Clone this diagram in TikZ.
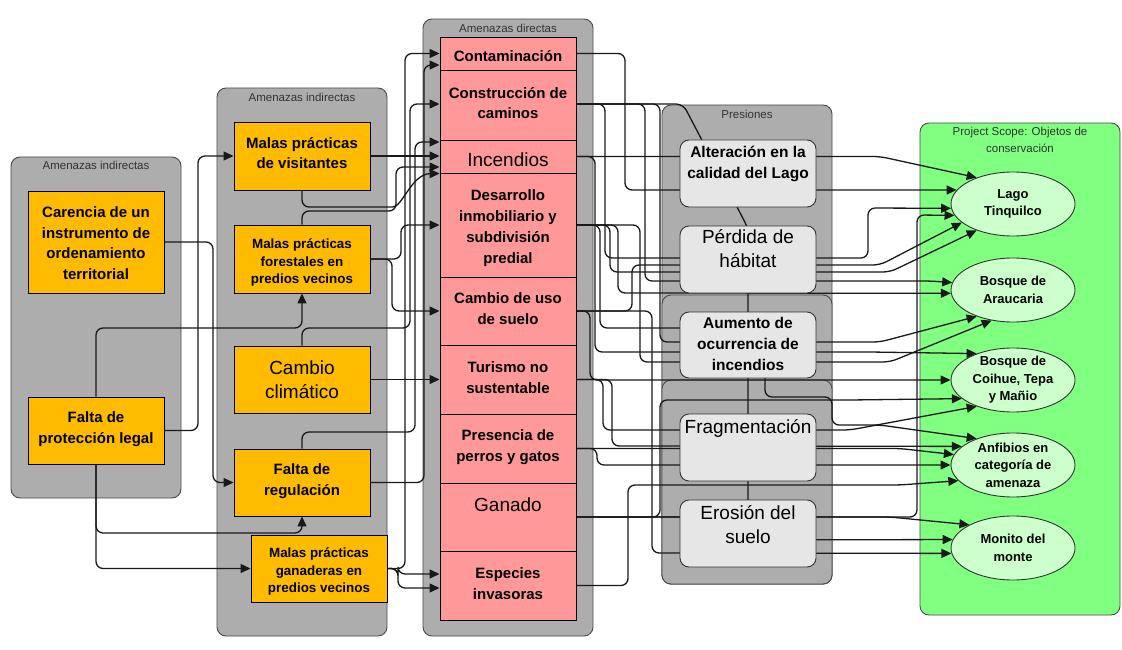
\documentclass[tikz,border=0pt]{standalone}
\usepackage{fontspec}
\setmainfont{Liberation Sans}
\usetikzlibrary{arrows.meta,shapes.geometric}
\pgfdeclarelayer{bg}
\pgfdeclarelayer{lines}
\pgfsetlayers{bg,lines,main}
\definecolor{orng}{HTML}{FFBB00}
\definecolor{pnk}{HTML}{FF9999}
\definecolor{grp}{HTML}{ADADAD}
\definecolor{prs}{HTML}{E6E6E6}
\definecolor{grn}{HTML}{80FF80}
\definecolor{ell}{HTML}{CCFFCC}
\newcommand\tbx[4]{\parbox[c][#2pt][t]{#1pt}{\centering\vspace*{#3pt}#4\par}}
\begin{document}
\begin{tikzpicture}[x=1pt,y=-1pt,
  grpbox/.style={draw=black!70, fill=grp, rounded corners=9pt, line width=0.9pt, inner sep=0pt},
  ttl/.style={font=\fontsize{11.5}{17}\selectfont, text=black!80, inner sep=0pt},
  obox/.style={draw=black, fill=orng, inner sep=0pt, line width=0.9pt, font=\bfseries\fontsize{15}{20.5}\selectfont},
  osmall/.style={obox, font=\bfseries\fontsize{13.4}{17.5}\selectfont},
  obig/.style={obox, font=\fontsize{19}{24}\selectfont},
  pbox/.style={draw=black, fill=pnk, inner sep=0pt, line width=0.9pt, font=\bfseries\fontsize{15}{20.8}\selectfont},
  pbig/.style={pbox, font=\fontsize{19}{24}\selectfont},
  sbox/.style={draw=black!80, fill=prs, rounded corners=9pt, inner sep=0pt, line width=0.9pt, font=\bfseries\fontsize{15.5}{21}\selectfont},
  sbig/.style={sbox, font=\fontsize{19}{24}\selectfont},
  tgt/.style={ellipse, draw=black!80, fill=ell, minimum width=124pt, minimum height=64pt, inner sep=-2pt, align=center, line width=0.9pt, font=\bfseries\fontsize{13}{17.5}\selectfont},
  ln/.style={draw=black!90, line width=1.3pt, rounded corners=7pt},
  arr/.style={ln, -{Triangle[length=10pt,width=9pt]}}]
\begin{pgfonlayer}{bg}
  \fill[white] (0,0) rectangle (1122,650);
  \useasboundingbox (0,0) rectangle (1122,650);
  \node[grpbox, minimum width=170pt, minimum height=341pt] (g1) at (96,327.5) {};
  \node[grpbox, minimum width=170pt, minimum height=548pt] (g2) at (302,362) {};
  \node[grpbox, minimum width=170pt, minimum height=617pt] (g3) at (508,327.5) {};
  \node[grpbox, minimum width=170pt, minimum height=479pt] (g4) at (747,344.5) {};
  \node[grpbox, minimum width=170pt, minimum height=289pt] (g4a) at (747,439.5) {};
  \node[grpbox, minimum width=170pt, minimum height=204pt] (g4b) at (747,482) {};
  \node[grpbox, fill=grn, minimum width=200pt, minimum height=492pt] (g5) at (1020,369) {};
  \node[ttl] (t1) at (96,165) {Amenazas indirectas};
  \node[ttl] (t2) at (302,97) {Amenazas indirectas};
  \node[ttl] (t3) at (508,28) {Amenazas directas};
  \node[ttl] (t4) at (747,114) {Presiones};
  \node[ttl, align=center] (t5) at (1020,139.5) {Project Scope: Objetos de\\conservación};
\end{pgfonlayer}

% Amenazas indirectas (left)
\node[obox] (car) at (96,242) {\tbx{136}{102}{16}{Carencia de un\\instrumento de\\ordenamiento\\territorial}};
\node[obox] (fprot) at (96,430.5) {\tbx{136}{67}{15}{Falta de\\protección legal}};
% Amenazas indirectas (second)
\node[obox] (vis) at (302,156) {\tbx{136}{68}{15}{Malas prácticas\\de visitantes}};
\node[osmall] (for) at (302,259) {\tbx{136}{68}{14}{Malas prácticas\\forestales en\\predios vecinos}};
\node[obig] (cc) at (302,379.5) {\tbx{136}{67}{15}{Cambio\\climático}};
\node[obox] (freg) at (302,482.5) {\tbx{136}{67}{15}{Falta de\\regulación}};
\node[osmall] (gan) at (319,568.5) {\tbx{136}{67}{13}{Malas prácticas\\ganaderas en\\predios vecinos}};
% Amenazas directas
\node[pbox] (cont) at (508,53.5) {\tbx{136}{33}{14}{Contaminación}};
\node[pbox] (constr) at (508,105) {\tbx{136}{70}{17}{Construcción de\\caminos}};
\node[pbig] (inc) at (508,156.5) {\tbx{136}{33}{13}{Incendios}};
\node[pbox] (des) at (508,225) {\tbx{136}{104}{17}{Desarrollo\\inmobiliario y\\subdivisión\\predial}};
\node[pbox] (cus) at (508,311) {\tbx{136}{68}{16}{Cambio de uso\\de suelo}};
\node[pbox] (tur) at (508,379.5) {\tbx{136}{69}{17}{Turismo no\\sustentable}};
\node[pbox] (per) at (508,448.5) {\tbx{136}{69}{16}{Presencia de\\perros y gatos}};
\node[pbig] (gnd) at (508,517) {\tbx{136}{68}{15}{Ganado}};
\node[pbox] (esp) at (508,585.5) {\tbx{136}{69}{17}{Especies\\invasoras}};
% Presiones
\node[sbox] (alt) at (748,173.5) {\tbx{136}{67}{6}{Alteración en la\\calidad del Lago}};
\node[sbig] (perd) at (748,259.5) {\tbx{136}{67}{4}{Pérdida de\\hábitat}};
\node[sbox] (aum) at (748,345) {\tbx{136}{66}{5}{Aumento de\\ocurrencia de\\incendios}};
\node[sbig] (frag) at (748,447.5) {\tbx{136}{67}{6}{Fragmentación}};
\node[sbig] (eros) at (748,533.5) {\tbx{136}{67}{6}{Erosión del\\suelo}};
% Objetos de conservacion
\node[tgt] (lago) at (1013,204) {Lago\\Tinquilco};
\node[tgt] (arau) at (1013,290) {Bosque de\\Araucaria};
\node[tgt] (coih) at (1013,380) {Bosque de\\Coihue, Tepa\\y Mañio};
\node[tgt] (anf) at (1013,465) {Anfibios en\\categoría de\\amenaza};
\node[tgt] (mon) at (1013,548) {Monito del\\monte};

\begin{pgfonlayer}{lines}
  % left groups
  \draw[arr] (car.east) -- (213,242) |- (freg.west);
  \draw[arr] (fprot.east) -| (198,300) |- (vis.west);
  \draw[arr] (fprot.north) |- (250,328) -| (for.south);
  \draw[arr] (fprot.south) |- (250,533) -| (freg.south);
  \draw[arr] (fprot.south) |- (gan.west);
  % to direct threats
  \draw[arr] (vis.east) -- (vis.east -| inc.west);
  \draw[arr] (vis.south) |- (386,207) .. controls (402,207) and (412,174) .. (inc.south west);
  \draw[arr] (for.north) |- (396,211) -- (396,167) -- (inc.west |- 0,167);
  \draw[arr] (for.east) -- (401,259) -- (401,225) -- (des.west);
  \draw[arr] (for.east) -- (392,259) -- (392,311) -- (cus.west);
  \draw[arr] (cc.east) -- (tur.west);
  \draw[arr] (cc.north) |- (410,328) -- (410,104) -- (constr.west |- 0,104);
  \draw[arr] (freg.north) |- (415,432) -- (415,142) -- (inc.west |- 0,142);
  \draw[arr] (freg.east) -- (424,482.5) -- (424,65) -- (cont.west |- 0,65);
  \draw[arr] (gan.east) -- (405,568.5) -- (405,53.5) -- (cont.west);
  \draw[arr] (gan.east) -- (398,568.5) -- (398,574) -- (esp.west |- 0,574);
  \draw[arr] (gan.east) -- (398,568.5) -- (398,588) -- (esp.west |- 0,588);
  % to conservation targets
  \draw[arr] (cont.east) -- (625,53.5) -- (625,190) -- (930,190) -- (lago.166);
  \draw[arr] (inc.east) -- (880,156.5) -- (lago.144);
  \draw[arr] (constr.east |- 0,104) -- (605,104) -- (605,258) -- (868,258) -- (868,208) -- (lago.184);
  \draw[arr] (constr.east |- 0,104) -- (645,104) -- (645,281) -- (930,281) -- (arau.173);
  \draw[arr] (des.east) -- (618,225) -- (618,293) -- (arau.183);
  \draw[arr] (constr.east |- 0,104) -- (660,104) -- (660,342) -- (880,342) -- (arau.216);
  \draw[arr] (des.east) -- (640,225) -- (640,362) -- (890,362) -- (arau.235);
  \draw[arr] (inc.east) -- (595,156.5) -- (595,352) -- (870,352) -- (coih.144);
  \draw[arr] (cus.east) -- (590,311) -- (590,380) -- (coih.180);
  \draw[arr] (tur.east) -- (603,379.5) -- (603,430) -- (850,430) -- (coih.216);
  \draw[arr] (tur.east) -- (612,379.5) -- (612,446) -- (anf.160);
  \draw[arr] (per.east) -- (900,448.5) -- (anf.170);
  \draw[arr] (per.east) -- (597,448.5) -- (597,465) -- (anf.180);
  \draw[arr] (esp.east) -- (628,585.5) -- (628,485) -- (900,485) -- (anf.196);
  \draw[arr] (gnd.east) -- (890,517) -- (mon.152);
  \draw[arr] (cus.east) -- (652,311) -- (652,553) -- (mon.185);
  \draw[arr] (gnd.east) -- (917,517) -- (917,215) -- (lago.191);
  \draw[arr] (constr.east |- 0,104) -- (683,104) -- (748,228) -- (748,540) -- (mon.172);
  \draw[arr] (des.east) -- (600,225) -- (600,328) -- (765,328) -- (765,397) -- (832,397) -- (832,425) -- (880,425) -- (anf.144);
  \draw[arr] (cus.east) -- (632,311) -- (632,265) -- (880,265) -- (lago.200);
  \draw[arr] (des.east) -- (610,225) -- (610,272) -- (890,272) -- (lago.216);
  \draw[arr] (gnd.east) -- (660,517) -- (660,400) -- (850,400) -- (coih.200);
\end{pgfonlayer}
\end{tikzpicture}
\end{document}
